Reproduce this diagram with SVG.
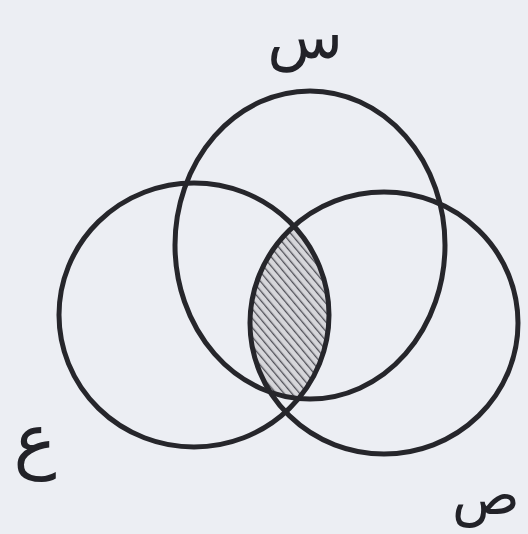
<svg xmlns="http://www.w3.org/2000/svg" width="528" height="534" viewBox="0 0 528 534">
<style>
.c{fill:none;stroke:#26262b;stroke-width:5}
.lbl{font-family:"DejaVu Sans","Noto Sans",sans-serif;fill:#222228}
</style>
<defs>
<pattern id="hatch" width="6" height="6" patternUnits="userSpaceOnUse" patternTransform="rotate(-40)">
<rect width="6" height="6" fill="#d6d6da"/>
<line x1="0" y1="0" x2="0" y2="6" stroke="#505058" stroke-width="2.6"/>
</pattern>
<clipPath id="cl"><ellipse cx="194" cy="315" rx="135" ry="132"/></clipPath>
<clipPath id="cr"><ellipse cx="384" cy="323" rx="134" ry="131"/></clipPath>
<clipPath id="ct"><ellipse cx="310" cy="245" rx="135" ry="154"/></clipPath>
</defs>
<rect width="528" height="534" fill="#eceef3"/>
<g id="shade" clip-path="url(#ct)">
<g clip-path="url(#cl)">
<rect x="0" y="0" width="528" height="534" fill="url(#hatch)" clip-path="url(#cr)"/>
</g>
</g>
<g id="node-s">
<ellipse class="c" cx="310" cy="245" rx="135" ry="154"/>
<text class="lbl" x="305" y="58" font-size="62" text-anchor="middle">س</text>
</g>
<g id="node-a">
<ellipse class="c" cx="194" cy="315" rx="135" ry="132"/>
<text class="lbl" x="35" y="464" font-size="72" text-anchor="middle">ع</text>
</g>
<g id="node-sad">
<ellipse class="c" cx="384" cy="323" rx="134" ry="131"/>
<text class="lbl" x="452" y="514" font-size="56" text-anchor="start">ص</text>
</g>
<g id="connectors"/>
</svg>
